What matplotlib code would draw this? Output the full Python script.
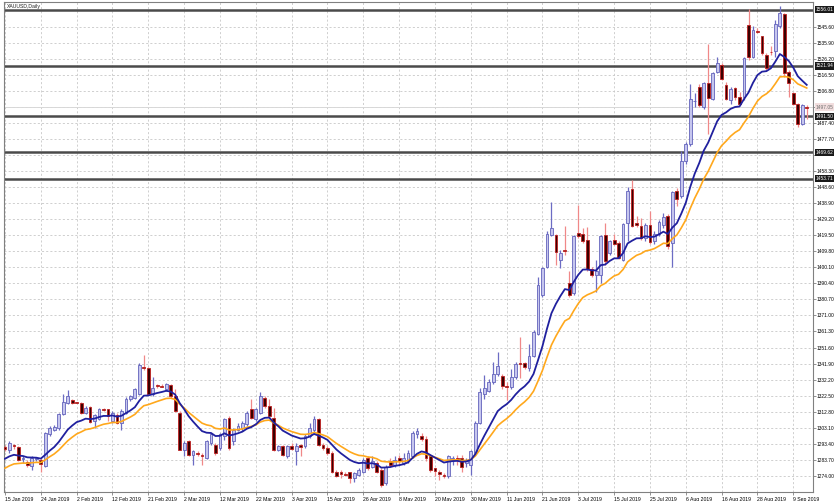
import matplotlib
matplotlib.use('Agg')
import matplotlib.pyplot as plt
import matplotlib.transforms as mtrans
import numpy as np

plt.rcParams['font.family'] = ['Liberation Sans', 'DejaVu Sans']

# ---------------- data (XAUUSD daily) ----------------
opens = [1291.4, 1289.4, 1292.7, 1291.4, 1284.0, 1282.1, 1280.1, 1284.0, 1283.7, 1280.0,
         1299.0, 1302.0, 1303.0, 1311.2, 1318.3, 1319.9, 1318.3, 1317.9, 1312.2, 1315.6,
         1307.1, 1308.5, 1314.4, 1314.2, 1307.1, 1310.5, 1306.1, 1312.2, 1320.5, 1321.3,
         1323.4, 1340.0, 1339.0, 1323.4, 1328.6, 1328.6, 1326.4, 1328.8, 1322.3, 1312.2,
         1289.8, 1294.9, 1286.8, 1287.8, 1286.8, 1284.7, 1293.9, 1292.9, 1290.8, 1298.0,
         1309.1, 1294.9, 1302.0, 1303.0, 1305.1, 1314.2, 1308.1, 1312.2, 1321.3, 1316.2,
         1309.1, 1289.8, 1291.8, 1285.7, 1292.0, 1288.8, 1292.4, 1291.8, 1297.9, 1302.0,
         1308.1, 1292.9, 1290.8, 1287.8, 1276.6, 1276.0, 1275.0, 1276.0, 1272.5, 1274.6,
         1276.6, 1284.7, 1279.6, 1281.7, 1277.6, 1269.5, 1282.7, 1280.7, 1284.7, 1281.7,
         1282.7, 1285.7, 1299.0, 1298.0, 1296.0, 1285.7, 1278.6, 1276.6, 1274.6, 1273.6,
         1283.7, 1284.7, 1284.7, 1281.7, 1280.7, 1287.8, 1306.1, 1323.4, 1325.4, 1330.5,
         1335.5, 1334.5, 1328.2, 1327.6, 1333.5, 1342.0, 1342.1, 1339.0, 1346.7, 1360.0,
         1383.3, 1400.6, 1419.9, 1419.5, 1404.7, 1410.6, 1390.5, 1384.3, 1420.9, 1420.3,
         1416.9, 1399.2, 1395.5, 1395.5, 1419.9, 1408.8, 1416.9, 1414.8, 1404.7, 1427.0,
         1447.4, 1427.0, 1425.0, 1417.9, 1426.0, 1415.9, 1420.3, 1426.0, 1431.1, 1414.8,
         1446.4, 1443.3, 1464.7, 1475.0, 1500.5, 1509.3, 1497.1, 1511.5, 1502.2, 1518.5,
         1522.6, 1510.4, 1501.2, 1508.3, 1503.2, 1503.2, 1546.5, 1527.6, 1543.1, 1539.8,
         1528.7, 1530.5, 1530.7, 1545.9, 1553.1, 1518.5, 1505.3, 1499.2, 1487.0, 1497.3]
highs = [1292.9, 1295.3, 1293.3, 1292.2, 1286.0, 1283.7, 1285.7, 1285.1, 1284.7, 1300.4,
         1304.1, 1304.5, 1312.2, 1323.4, 1326.0, 1320.7, 1318.8, 1318.7, 1316.2, 1316.2,
         1311.2, 1315.2, 1314.8, 1314.6, 1313.2, 1311.8, 1314.2, 1321.7, 1323.0, 1327.4,
         1342.3, 1347.0, 1339.6, 1333.5, 1329.4, 1329.4, 1330.1, 1329.4, 1326.8, 1313.2,
         1294.9, 1295.9, 1289.8, 1288.8, 1287.8, 1295.9, 1300.0, 1293.9, 1300.0, 1309.1,
         1310.1, 1303.0, 1306.1, 1307.1, 1313.2, 1320.3, 1315.2, 1324.4, 1322.3, 1320.3,
         1315.2, 1292.9, 1292.9, 1292.9, 1293.9, 1293.9, 1293.5, 1299.0, 1306.1, 1310.1,
         1309.1, 1293.9, 1291.8, 1288.8, 1277.6, 1277.6, 1276.0, 1276.6, 1276.6, 1278.6,
         1284.7, 1285.7, 1285.7, 1282.7, 1278.6, 1280.7, 1284.7, 1285.7, 1286.8, 1287.8,
         1289.8, 1301.0, 1303.0, 1300.0, 1298.0, 1286.8, 1278.6, 1277.6, 1275.6, 1286.8,
         1285.7, 1286.8, 1286.8, 1284.7, 1289.8, 1307.1, 1327.4, 1335.0, 1332.5, 1342.7,
         1348.8, 1335.5, 1330.5, 1338.6, 1342.7, 1357.9, 1342.7, 1353.9, 1362.0, 1394.5,
         1400.6, 1422.0, 1439.8, 1420.3, 1410.8, 1425.0, 1398.0, 1419.9, 1437.8, 1424.0,
         1424.4, 1400.0, 1404.7, 1419.5, 1427.0, 1416.9, 1420.3, 1415.9, 1427.0, 1448.4,
         1452.9, 1431.1, 1430.1, 1427.0, 1434.2, 1422.0, 1428.5, 1433.1, 1432.1, 1446.4,
         1448.0, 1470.7, 1475.8, 1511.0, 1505.3, 1510.9, 1512.4, 1535.0, 1518.5, 1527.6,
         1523.6, 1512.4, 1509.3, 1509.3, 1506.3, 1527.6, 1556.1, 1545.9, 1544.9, 1540.2,
         1529.7, 1533.7, 1550.0, 1558.1, 1554.1, 1519.5, 1506.3, 1499.6, 1498.8, 1498.2]
lows = [1288.8, 1287.8, 1290.2, 1283.1, 1282.0, 1279.6, 1277.6, 1282.7, 1276.6, 1279.6,
        1298.0, 1301.0, 1302.0, 1310.6, 1317.3, 1317.3, 1317.9, 1311.2, 1311.2, 1306.1,
        1303.0, 1307.7, 1313.2, 1307.1, 1306.1, 1305.1, 1302.0, 1311.6, 1319.0, 1320.7,
        1322.7, 1338.2, 1322.7, 1322.3, 1327.4, 1327.6, 1325.4, 1321.3, 1312.6, 1289.4,
        1285.7, 1285.7, 1280.7, 1285.7, 1280.7, 1284.1, 1292.9, 1286.8, 1289.8, 1295.9,
        1289.8, 1292.9, 1301.0, 1301.0, 1304.1, 1308.1, 1307.1, 1311.6, 1315.2, 1309.1,
        1288.8, 1288.8, 1285.8, 1284.7, 1289.8, 1280.7, 1285.8, 1290.8, 1297.0, 1300.0,
        1291.8, 1289.8, 1286.8, 1275.6, 1273.1, 1272.5, 1274.0, 1269.5, 1270.5, 1273.6,
        1275.6, 1277.6, 1278.6, 1275.6, 1267.5, 1268.5, 1279.6, 1279.6, 1280.7, 1280.7,
        1281.7, 1284.7, 1296.9, 1294.9, 1282.7, 1276.6, 1273.6, 1271.5, 1272.5, 1272.5,
        1280.7, 1280.7, 1276.6, 1279.6, 1274.6, 1286.8, 1305.1, 1320.3, 1324.4, 1329.5,
        1334.5, 1326.4, 1319.9, 1326.4, 1332.5, 1332.9, 1338.6, 1337.6, 1345.7, 1359.0,
        1382.3, 1399.6, 1418.9, 1401.6, 1399.6, 1407.7, 1382.3, 1383.3, 1417.9, 1414.8,
        1397.6, 1394.5, 1385.4, 1390.4, 1401.6, 1407.7, 1413.8, 1405.3, 1403.7, 1415.9,
        1424.4, 1424.8, 1416.9, 1415.9, 1414.2, 1414.2, 1418.9, 1424.0, 1411.4, 1400.6,
        1437.2, 1442.3, 1462.6, 1473.5, 1497.1, 1497.1, 1496.1, 1481.0, 1501.2, 1517.5,
        1513.4, 1501.2, 1499.2, 1501.2, 1498.2, 1501.2, 1525.6, 1526.6, 1541.9, 1528.7,
        1519.5, 1528.7, 1527.6, 1544.9, 1515.4, 1503.2, 1498.2, 1485.0, 1486.0, 1490.0]
closes = [1290.2, 1293.9, 1291.8, 1283.7, 1284.5, 1280.7, 1284.7, 1284.2, 1281.3, 1299.6,
          1303.0, 1303.4, 1311.2, 1318.7, 1322.3, 1317.9, 1318.1, 1312.2, 1315.2, 1306.7,
          1310.5, 1314.6, 1314.0, 1310.1, 1312.2, 1305.7, 1313.2, 1320.7, 1322.5, 1326.4,
          1341.0, 1339.2, 1323.4, 1327.4, 1328.2, 1328.0, 1329.4, 1322.3, 1313.2, 1289.8,
          1293.9, 1286.8, 1288.8, 1287.3, 1285.7, 1294.9, 1299.0, 1287.8, 1299.0, 1308.1,
          1290.8, 1302.0, 1304.1, 1306.1, 1312.2, 1309.1, 1314.2, 1322.3, 1316.2, 1310.1,
          1289.8, 1291.8, 1286.8, 1291.8, 1290.0, 1292.2, 1291.6, 1297.9, 1303.0, 1308.1,
          1292.9, 1290.8, 1287.8, 1276.6, 1274.0, 1275.0, 1274.6, 1272.5, 1275.6, 1277.6,
          1283.7, 1278.6, 1282.7, 1276.6, 1268.5, 1279.6, 1280.7, 1283.7, 1282.7, 1284.7,
          1287.8, 1300.0, 1301.0, 1296.5, 1284.7, 1277.6, 1277.0, 1275.2, 1273.6, 1285.7,
          1284.7, 1283.7, 1279.6, 1283.7, 1288.8, 1306.1, 1324.4, 1327.4, 1330.5, 1335.5,
          1340.6, 1328.4, 1327.6, 1333.8, 1341.7, 1341.4, 1339.6, 1346.7, 1361.0, 1389.4,
          1399.6, 1420.3, 1424.0, 1409.4, 1408.8, 1410.0, 1383.3, 1418.9, 1418.9, 1415.9,
          1399.2, 1395.5, 1398.0, 1418.9, 1403.7, 1415.9, 1414.2, 1405.7, 1426.4, 1446.4,
          1425.4, 1425.6, 1417.9, 1425.6, 1415.5, 1420.3, 1427.6, 1430.5, 1412.8, 1445.4,
          1441.3, 1464.7, 1474.8, 1502.0, 1501.0, 1498.2, 1511.8, 1502.5, 1517.5, 1523.6,
          1513.8, 1502.2, 1507.7, 1503.2, 1499.2, 1526.6, 1527.6, 1543.9, 1542.3, 1529.7,
          1520.5, 1530.1, 1547.0, 1554.1, 1517.5, 1511.4, 1499.2, 1487.0, 1498.2, 1496.5]

# moving-average indicator settings (values at the first visible bar)
fast_period, slow_period = 12, 20
fast_start, slow_start = 1284.3, 1278.6

date_labels = ['15 Jan 2019', '24 Jan 2019', '2 Feb 2019', '12 Feb 2019', '21 Feb 2019',
               '2 Mar 2019', '12 Mar 2019', '22 Mar 2019', '3 Apr 2019', '15 Apr 2019',
               '26 Apr 2019', '8 May 2019', '20 May 2019', '30 May 2019', '11 Jun 2019',
               '21 Jun 2019', '3 Jul 2019', '15 Jul 2019', '25 Jul 2019', '6 Aug 2019',
               '16 Aug 2019', '28 Aug 2019', '9 Sep 2019']
date_bars = [0, 8, 16, 24, 32, 40, 48, 56, 64, 72, 80, 88, 96, 104, 112, 120, 128,
             136, 144, 152, 160, 168, 176]

price_ticks = [1274.00, 1283.70, 1293.40, 1303.10, 1312.80, 1322.50, 1332.20, 1341.90,
               1351.60, 1361.30, 1371.00, 1380.70, 1390.40, 1400.10, 1409.80, 1419.50,
               1429.20, 1438.90, 1448.60, 1458.30, 1468.00, 1477.70, 1487.40, 1497.10,
               1506.80, 1516.50, 1526.20, 1535.90, 1545.60]
# tick labels that sit under a price box on the axis (hidden in the reference)
covered_ticks = [1468.00, 1497.10]

level_lines = [1556.01, 1521.94, 1491.50, 1469.62, 1453.71]
bid_price = 1497.05


def ema(values, period, start):
    a = 2.0 / (period + 1)
    out = [start]
    for v in values[1:]:
        out.append(out[-1] + a * (v - out[-1]))
    return np.array(out)


o = np.array(opens); h = np.array(highs); l = np.array(lows); c = np.array(closes)
n = len(c)
x = np.arange(n)

W, H = 834, 501
fig = plt.figure(figsize=(W / 100, H / 100), dpi=100)
ax = fig.add_axes([4 / W, 9 / H, (813 - 4) / W, (499 - 9) / H])
ax.set_facecolor('white')

FSY = 3.5
FSX = 3.7

# grid
grid_kw = dict(color='#c8c8c8', lw=0.6, dashes=(2.5, 2.5), zorder=0)
for t in price_ticks:
    ax.axhline(t, **grid_kw)
for b in date_bars:
    ax.axvline(b, **grid_kw)

# horizontal levels
for lv in level_lines:
    ax.axhline(lv, color='#4a4a4a', lw=1.8, zorder=1)
ax.axhline(bid_price, color='#d8d8d8', lw=0.7, zorder=1)

# candles
bull = c >= o
wick_col = np.where(bull, '#6c6cc4', '#f08888')
ax.vlines(x, l, h, colors=wick_col, lw=0.9, zorder=2)
body_bottom = np.minimum(o, c)
body_h = np.maximum(np.abs(c - o), 0.5)
ax.bar(x[bull], body_h[bull], bottom=body_bottom[bull], width=0.62,
       color='#c6c6ee', edgecolor='#6464bc', linewidth=0.6, zorder=3)
ax.bar(x[~bull], body_h[~bull], bottom=body_bottom[~bull], width=0.62,
       color='#3a0000', edgecolor='#c02020', linewidth=0.6, zorder=3)

# moving averages
ax.plot(x, ema(closes, slow_period, slow_start), color='#ffa81c', lw=1.2, zorder=4)
ax.plot(x, ema(closes, fast_period, fast_start), color='#20209e', lw=1.3, zorder=5)

ax.set_xlim(-0.22, 180.4)
ax.set_ylim(1264.2, 1560.6)

for s in ax.spines.values():
    s.set_color('#808080')
    s.set_linewidth(0.8)

ax.yaxis.tick_right()
ax.set_yticks(price_ticks)
ax.set_yticklabels(['' if t in covered_ticks else f'{t:.2f}' for t in price_ticks])
ax.tick_params(axis='y', labelsize=FSY, length=2.0, width=0.6, color='#808080', pad=0.8)
ax.set_xticks(date_bars)
ax.set_xticklabels(date_labels)
ax.tick_params(axis='x', labelsize=FSX, length=2.5, width=0.6, color='#808080', pad=0.8)
for lab in ax.get_xticklabels():
    lab.set_horizontalalignment('left')

trans = mtrans.blended_transform_factory(ax.transAxes, ax.transData)
for lv in level_lines:
    ax.text(1.0035, lv, f'{lv:.2f}', transform=trans, fontsize=FSY, color='white',
            va='center', ha='left', zorder=10, clip_on=False,
            bbox=dict(boxstyle='square,pad=0.25', fc='#1a1a1a', ec='none'))
ax.text(1.0035, bid_price, f'{bid_price:.2f}', transform=trans, fontsize=FSY, color='#707070',
        va='center', ha='left', zorder=10, clip_on=False,
        bbox=dict(boxstyle='square,pad=0.25', fc='#f2dede', ec='none'))

ax.text(0.004, 0.996, 'XAUUSD,Daily', transform=ax.transAxes, fontsize=FSX,
        va='top', ha='left', color='#202020')

fig.savefig('out.png', dpi=100)
